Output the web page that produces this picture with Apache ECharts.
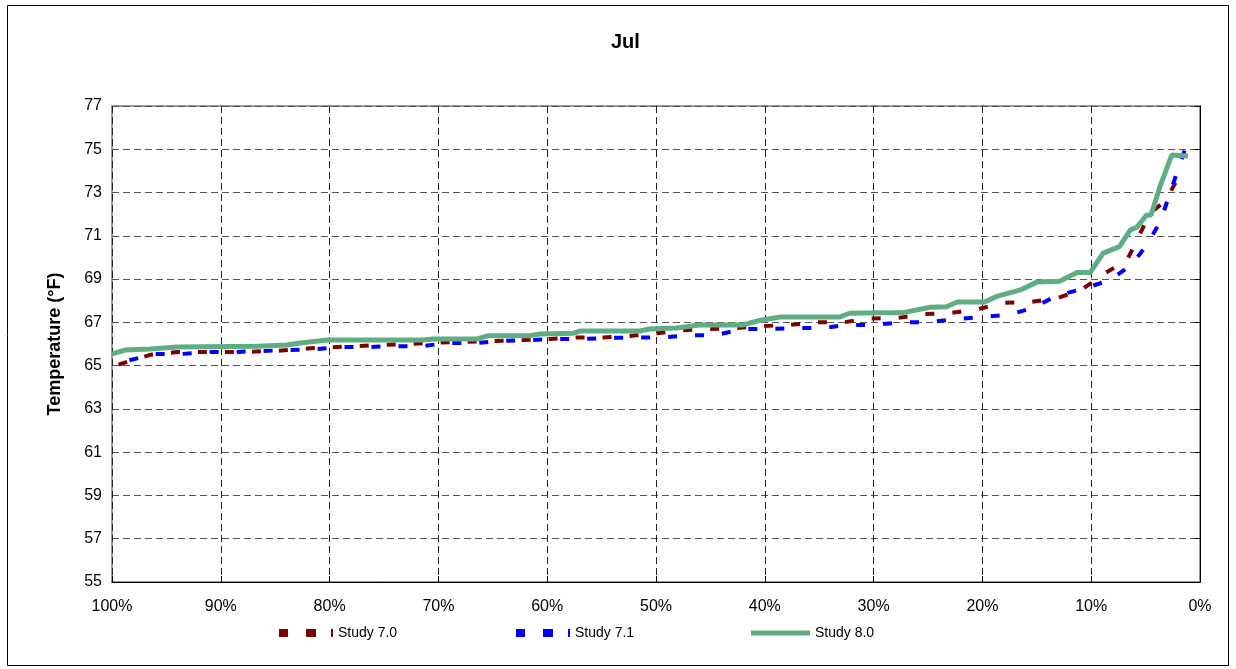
<!DOCTYPE html>
<html>
<head>
<meta charset="utf-8">
<title>Jul</title>
<script src="https://cdn.jsdelivr.net/npm/echarts@6/dist/echarts.min.js"></script>
<style>
    html, body { margin: 0; padding: 0; background: #fff; }
    #graph { width: 1236px; height: 669px; }
</style>
</head>
<body>
<div id="graph"></div>
<script>
"use strict"

// percent of hours exceeded, temperature (°F)
const study70 = [
    [99.4, 65.05], [96.5, 65.5], [94.0, 65.63], [88.2, 65.63], [85.0, 65.68], [81.8, 65.8],
    [77.7, 65.9], [73.1, 66.0], [68.0, 66.1], [65.0, 66.14], [62.2, 66.18], [59.7, 66.23],
    [57.3, 66.3], [54.9, 66.3], [52.4, 66.37], [49.9, 66.5], [47.5, 66.64], [45.0, 66.69],
    [42.6, 66.74], [40.2, 66.83], [37.7, 66.88], [35.2, 67.0], [32.8, 67.0], [30.3, 67.18],
    [27.8, 67.2], [25.5, 67.38], [23.0, 67.43], [20.5, 67.6], [18.1, 67.9], [15.6, 67.94],
    [13.1, 68.12], [10.8, 68.54], [8.7, 69.28], [6.7, 69.88], [5.7, 70.9], [4.6, 72.05],
    [3.2, 72.6], [2.2, 73.5], [1.4, 73.95]
];
const study71 = [
    [99.2, 65.15], [96.0, 65.54], [93.6, 65.54], [91.0, 65.63], [88.7, 65.63], [86.1, 65.68],
    [83.6, 65.72], [81.2, 65.77], [78.8, 65.86], [76.5, 65.86], [74.0, 65.9], [71.5, 65.9],
    [69.1, 66.05], [66.5, 66.05], [64.2, 66.14], [61.8, 66.18], [59.3, 66.23], [56.8, 66.23],
    [54.4, 66.28], [51.9, 66.3], [49.4, 66.3], [47.1, 66.4], [44.6, 66.4], [42.1, 66.69],
    [39.7, 66.69], [37.2, 66.74], [34.7, 66.74], [32.4, 66.88], [29.9, 66.88], [27.6, 67.0],
    [25.0, 67.0], [22.5, 67.15], [20.0, 67.25], [17.6, 67.35], [15.4, 67.66], [13.1, 68.25],
    [10.8, 68.54], [8.3, 68.95], [6.3, 69.65], [4.9, 70.57], [3.7, 71.6], [2.9, 72.75],
    [2.2, 73.8], [1.4, 74.96], [0.9, 75.2]
];
const study80 = [
    [100, 65.54], [98.8, 65.72], [96.5, 65.77], [94.0, 65.86], [86.7, 65.9], [83.9, 65.95],
    [82.7, 66.05], [80.2, 66.18], [71.4, 66.18], [70.5, 66.23], [66.5, 66.23], [65.5, 66.38],
    [61.6, 66.38], [60.7, 66.46], [57.6, 66.5], [57.0, 66.6], [51.5, 66.6], [50.6, 66.69],
    [48.1, 66.74], [46.0, 66.88], [42.0, 66.88], [40.4, 67.1], [38.6, 67.25], [33.1, 67.25],
    [32.2, 67.42], [29.4, 67.45], [27.3, 67.45], [24.8, 67.7], [23.3, 67.72], [22.3, 67.94],
    [19.8, 67.94], [18.7, 68.2], [16.5, 68.5], [15.0, 68.86], [12.9, 68.9], [11.3, 69.3],
    [10.1, 69.3], [8.9, 70.2], [7.4, 70.5], [6.4, 71.27], [5.8, 71.4], [4.9, 71.96],
    [4.5, 71.96], [3.7, 73.25], [2.6, 74.73], [1.1, 74.69]
];
const seriesNames = ["Study 7.0", "Study 7.1", "Study 8.0"];
const seriesColors = ["#800000", "#0000ff", "#5fae83"];

const font = "Liberation Sans, Arial, sans-serif";
const gridLine = (color) => ({ show: true, lineStyle: { color: color, type: [7, 4], width: 1 } });
// dashed swatch like the spreadsheet legend: two squares and a sliver
const dashIcon = "path://M0,0h9v8h-9z M27,0h10v8h-10z M52,0h2v8h-2z";

function legendAt(left, name, icon, w, h)
{
    return ({
        left: left,
        top: 626,
        padding: 0,
        itemWidth: w,
        itemHeight: h,
        icon: icon,
        itemStyle: { borderWidth: 0 },
        textStyle: { fontFamily: font, fontSize: 14, color: "#000" },
        data: [name]
    });
}

const myChart = echarts.init(document.getElementById("graph"), null, { renderer: "canvas" });

const option = {
    animation: false,
    backgroundColor: "#fff",
    title: {
        text: "Jul",
        left: 606,
        top: 27,
        textStyle: { fontFamily: font, fontSize: 20, fontWeight: "bold", color: "#000" }
    },
    grid: { left: 112, right: 36, top: 106, bottom: 87, show: true, borderColor: "#999", borderWidth: 2 },
    legend: [
        legendAt(279, seriesNames[0], dashIcon, 54, 8),
        legendAt(516, seriesNames[1], dashIcon, 54, 8),
        legendAt(751, seriesNames[2], "rect", 59, 5)
    ],
    xAxis: {
        type: "value",
        inverse: true,
        min: 0,
        max: 100,
        interval: 10,
        axisLine: { show: true, lineStyle: { color: "#000", width: 1 } },
        axisTick: { show: true, inside: true, length: 6, lineStyle: { color: "#000" } },
        axisLabel: { formatter: val => val + "%", fontFamily: font, fontSize: 16, color: "#000", margin: 17 },
        splitLine: gridLine("#222")
    },
    yAxis: {
        type: "value",
        min: 55,
        max: 77,
        interval: 2,
        name: "Temperature (°F)",
        nameLocation: "middle",
        nameGap: 48,
        nameTextStyle: { fontFamily: font, fontSize: 18, fontWeight: "bold", color: "#000" },
        axisLine: { show: true, lineStyle: { color: "#000", width: 1 } },
        axisTick: { show: true, length: 5, lineStyle: { color: "#000" } },
        axisLabel: { fontFamily: font, fontSize: 16, color: "#000", margin: 10 },
        splitLine: gridLine("#555")
    },
    series: [
        {
            name: seriesNames[0],
            type: "line",
            data: study70,
            symbol: "none",
            lineStyle: { color: seriesColors[0], width: 4, type: [9, 18] },
            itemStyle: { color: seriesColors[0] }
        },
        {
            name: seriesNames[1],
            type: "line",
            data: study71,
            symbol: "none",
            lineStyle: { color: seriesColors[1], width: 4, type: [9, 18], dashOffset: -9 },
            itemStyle: { color: seriesColors[1] }
        },
        {
            name: seriesNames[2],
            type: "line",
            data: study80,
            symbol: "none",
            lineStyle: { color: seriesColors[2], width: 5 },
            itemStyle: { color: seriesColors[2] }
        }
    ],
    graphic: [{
        type: "rect",
        shape: { x: 7.5, y: 5.5, width: 1221, height: 660 },
        style: { fill: null, stroke: "#000", lineWidth: 1 },
        silent: true
    }]
};
myChart.setOption(option);
</script>
</body>
</html>
